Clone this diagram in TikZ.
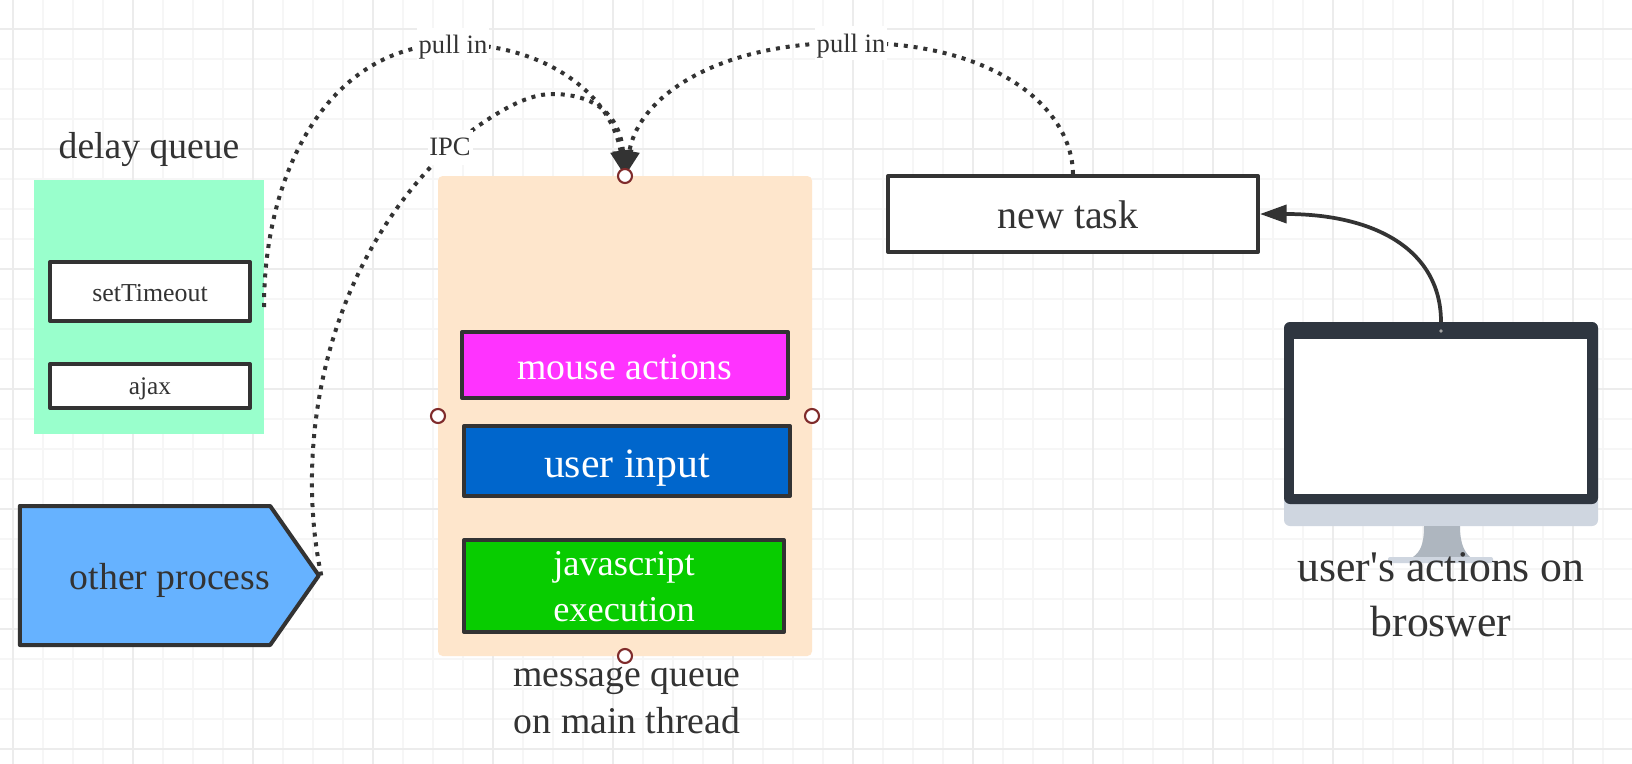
\documentclass[tikz,border=0pt]{standalone}
\usepackage{fontspec}
\setmainfont{Liberation Serif}[Ligatures=TeXOff]
\usetikzlibrary{arrows.meta,shapes.symbols}
\definecolor{ink}{HTML}{333333}
\definecolor{gridminor}{HTML}{F6F6F6}
\definecolor{gridmajor}{HTML}{ECECEC}
\definecolor{mint}{HTML}{99FFCC}
\definecolor{peach}{HTML}{FEE6CC}
\definecolor{magentafill}{HTML}{FF33FF}
\definecolor{bluefill}{HTML}{0066CC}
\definecolor{greenfill}{HTML}{08CC00}
\definecolor{skyfill}{HTML}{66B2FF}
\definecolor{handle}{HTML}{7F2B2B}
\definecolor{bezel}{HTML}{2F3640}
\definecolor{chin}{HTML}{CFD6E0}
\definecolor{stand}{HTML}{AEB6BF}
\pgfdeclarelayer{front}
\pgfsetlayers{main,front}
\tikzset{
  size/.style 2 args={minimum width=#1*0.75pt,minimum height=#2*0.75pt},
  % dy = distance in drawing units from the node centre down to the text baseline
  basedrop/.style={text depth=0pt,text height=#1*1.5pt},
  frame/.style={draw=ink,line width=3pt,line join=round,inner sep=0pt},
  plainbox/.style={inner sep=0pt,outer sep=0pt},
  caption/.style={text=ink,inner sep=0pt,anchor=base,align=center},
  tag/.style={fill=white,text=ink,inner sep=0pt,font=\fontsize{19.9}{24}\selectfont},
  handlept/.style={circle,draw=handle,fill=white,line width=1.6pt,minimum size=14*0.75pt,inner sep=0pt},
  pull/.style={draw=ink,line width=3pt,dash pattern=on 3pt off 4.4pt,-{Triangle[length=19pt,width=15pt]}},
  flow/.style={draw=ink,line width=2.8pt,-{Triangle[length=20pt,width=13.5pt]}},
}
\begin{document}
\begin{tikzpicture}[x=0.75pt,y=-0.75pt]
\useasboundingbox (0,0) rectangle (1632,764);
\fill[white] (0,0) rectangle (1632,764);

% drawing-paper grid
\foreach \gx in {13,43,...,1633} \draw[gridminor,line width=1.1pt] (\gx,0) -- (\gx,764);
\foreach \gy in {29,59,...,764} \draw[gridminor,line width=1.1pt] (0,\gy) -- (1632,\gy);
\foreach \gx in {13,133,...,1633} \draw[gridmajor,line width=1.5pt] (\gx,0) -- (\gx,764);
\foreach \gy in {29,149,...,764} \draw[gridmajor,line width=1.5pt] (0,\gy) -- (1632,\gy);

% delay queue
\node[caption,font=\fontsize{28.2}{34}\selectfont] (delaytitle) at (149,158.5) {delay queue};
\node[plainbox,fill=mint,size={230}{254}] (delay) at (149,307) {};
\node[frame,fill=white,text=ink,size={200}{59},basedrop=10,font=\fontsize{19.4}{24}\selectfont] (timeout) at (150,291.5) {setTimeout};
\node[frame,fill=white,text=ink,size={200}{44},basedrop=8,font=\fontsize{19}{24}\selectfont] (ajax) at (150,386) {ajax};

% other process
\node[frame,fill=skyfill,text=ink,signal,signal to=east,signal pointer angle=110,
      size={299}{139},basedrop=14,font=\fontsize{28.3}{34}\selectfont] (proc) at (145,575.5) {\hspace*{37.5pt}other process};

% message queue
\node[plainbox,fill=peach,rounded corners=3.5pt,size={374}{480}] (msg) at (625,416) {};
\node[frame,fill=magentafill,text=white,size={326}{66},basedrop=14,font=\fontsize{28.3}{34}\selectfont] (mouse) at (625,365) {mouse actions};
\node[frame,fill=bluefill,text=white,size={326}{70},basedrop=16,font=\fontsize{31.3}{38}\selectfont] (input) at (627,461) {user input};
\node[frame,fill=greenfill,text=white,size={320}{92},align=center,font=\fontsize{27.3}{34.5}\selectfont] (js) at (624,586) {\rule{0pt}{18.8pt}javascript\\execution};
\node[caption,font=\fontsize{28.3}{35}\selectfont] (msgtitle) at (627,733) {message queue\\on main thread};

% new task
\node[frame,fill=white,text=ink,size={370}{76},basedrop=14,font=\fontsize{30}{36}\selectfont] (newtask) at (1073,214) {\hspace*{-7.5pt}new task};

% monitor
\node[plainbox,fill=chin,rounded corners=4.5pt,size={314}{204}] (monitor) at (1441,424) {};
\fill[bezel,rounded corners=4.5pt] (1284,504) -- (1284,322) -- (1598,322) -- (1598,504) -- cycle;
\fill[white] (1294,339) rectangle (1587,494);
\fill[gray!70] (1441,331) circle (1.9);
\fill[stand] (1424,526) -- (1460,526) .. controls (1460,545) and (1465,552) .. (1470,557)
  -- (1413,557) .. controls (1420,552) and (1424,545) .. cycle;
\fill[chin,rounded corners=1.5pt] (1388,557) rectangle (1493,563);
\node[caption,font=\fontsize{32.8}{41}\selectfont] (usertitle) at (1441,636) {user's actions on\\broswer};

% connector labels and the handles on the queue sit above the connectors
\begin{pgfonlayer}{front}
  \node[tag,size={72}{32},basedrop=9] (pullleft) at (453,44) {pull in};
  \node[tag,size={72}{34},basedrop=9] (pullright) at (851,43) {pull in};
  \node[tag,size={45}{35},basedrop=7.5] (ipc) at (450,147.5) {IPC};
  \node[handlept] (hnorth) at (msg.north) {};
  \node[handlept] (hwest) at (msg.west) {};
  \node[handlept] (heast) at (msg.east) {};
  \node[handlept] (hsouth) at (msg.south) {};
\end{pgfonlayer}

% connectors
\draw[flow] (monitor.north) .. controls +(0,-72) and +(115,0) .. (newtask.east);
\draw[pull] (delay.east) .. controls (264,170) and (330,44) .. (pullleft.center)
  .. controls (540,44) and (610,90) .. (hnorth.center);
\draw[pull] (proc.east) .. controls (295,450) and (320,270) .. (ipc.center)
  .. controls (490,115) and (525,94) .. (552,94)
  .. controls (595,94) and (620,115) .. (hnorth.center);
\draw[pull] (newtask.north) .. controls (1072,105) and (990,41) .. (pullright.center)
  .. controls (730,41) and (640,90) .. (hnorth.center);
\end{tikzpicture}
\end{document}
